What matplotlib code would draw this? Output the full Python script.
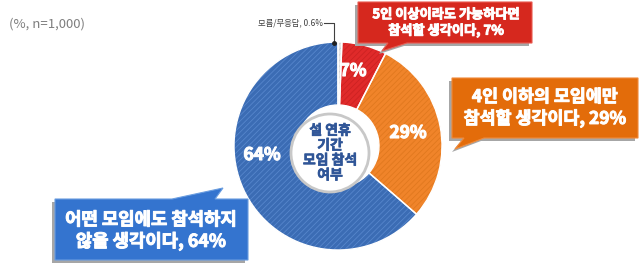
import matplotlib
matplotlib.use("Agg")
import matplotlib.pyplot as plt
from matplotlib.patches import Polygon, Circle
import matplotlib.patheffects as pe
import numpy as np

plt.rcParams['font.family'] = ['Noto Sans CJK KR', 'DejaVu Sans']
plt.rcParams['hatch.linewidth'] = 0.6

# ---- data ----
categories = ['모름/무응답', '5인 이상이라도 가능하다면', '4인 이하의 모임에만', '어떤 모임에도 참석하지 않음']
values = [0.6, 7, 29, 64]
pct_labels = ['', '7%', '29%', '64%']
face_colors = ['#e6e6e6', '#e02a2a', '#f0842a', '#3b6cb4']
hatch_colors = ['#d0d0d0', '#cc2222', '#e0781e', '#5686cc']
callout_texts = ['5인 이상이라도 가능하다면\n참석할 생각이다, 7%',
                 '4인 이하의 모임에만\n참석할 생각이다, 29%',
                 '어떤 모임에도 참석하지\n않을 생각이다, 64%']
small_label = '모름/무응답, 0.6%'
note = '(%, n=1,000)'
center_text = '설 연휴\n기간\n모임 참석\n여부'

W, H = 643, 271
fig = plt.figure(figsize=(W / 100, H / 100), dpi=100)
ax = fig.add_axes([0, 0, 1, 1])


def Y(py):
    return H - py


def P(pts):
    return [(x, Y(y)) for x, y in pts]


def bold(color, w=0.7):
    return [pe.withStroke(linewidth=w, foreground=color)]


cx, cy, R, ring = 338, Y(146), 104, 63
wedges, _ = ax.pie(values, startangle=90, counterclock=False, colors=face_colors,
                   center=(cx, cy), radius=R,
                   wedgeprops=dict(width=ring, linewidth=0))
for w, hc in zip(wedges, hatch_colors):
    w.set_hatch('//////')
    w.set_edgecolor(hc)
    w.set_linewidth(0)
ax.pie(values, startangle=90, counterclock=False, colors=['none'] * 4,
       center=(cx, cy), radius=R,
       wedgeprops=dict(width=ring, edgecolor='white', linewidth=1.0, fill=False))

ax.set_xlim(0, W)
ax.set_ylim(0, H)
ax.set_aspect('equal')
ax.axis('off')

# percentage labels inside ring
pct_pos = [None, (353, 71), (408, 133), (262, 155)]
for lab, pos in zip(pct_labels, pct_pos):
    if pos is None:
        continue
    ax.text(pos[0], Y(pos[1]), lab, ha='center', va='center', color='white',
            fontsize=12.5, fontweight='bold', path_effects=bold('white', 0.8))

# center circle
ax.add_patch(Circle((330, Y(153)), 39, facecolor='white', edgecolor='#c8c8c8', lw=2, zorder=3))
ax.text(330, Y(153), center_text, ha='center', va='center', color='#2f5597',
        fontsize=10, fontweight='bold', linespacing=1.08, zorder=4,
        path_effects=bold('#2f5597', 0.5))

# leader for small slice
ax.plot([324, 334, 334], [Y(23), Y(23), Y(43)], color='#404040', lw=0.8, zorder=5)
ax.plot([334], [Y(43)], 'o', color='#202020', ms=2.5, zorder=6)
ax.text(323, Y(23), small_label, ha='right', va='center', fontsize=6, color='#404040')

# note
ax.text(9, Y(24), note, ha='left', va='center', fontsize=9.5, color='#7f7f7f')


def callout(pts, color, edge, text, tx, ty, fs):
    sh = [(x - 3, y + 3) for x, y in pts]
    ax.add_patch(Polygon(P(sh), closed=True, facecolor='#a6a6a6', edgecolor='none', zorder=6))
    ax.add_patch(Polygon(P(pts), closed=True, facecolor=color, edgecolor=edge, lw=0.8, zorder=7))
    ax.text(tx, Y(ty), text, ha='center', va='center', color='white', fontsize=fs,
            fontweight='bold', linespacing=1.2, zorder=8, path_effects=bold('white', 0.7))


callout([(358, 2), (532, 2), (532, 43), (407, 43), (382, 51), (388, 43), (358, 43)],
        '#d6281e', '#e85a50', callout_texts[0], 446, 22.5, 9.5)
callout([(452, 78), (638, 78), (638, 138), (484, 138), (455, 149), (464, 138), (452, 138)],
        '#e36c0a', '#f08a3a', callout_texts[1], 545, 108, 12.5)
callout([(55, 199), (172, 199), (223, 188), (215, 199), (248, 199), (248, 260), (55, 260)],
        '#3474cf', '#6a9de0', callout_texts[2], 151, 231, 12.8)

fig.savefig('out.png', dpi=100)
